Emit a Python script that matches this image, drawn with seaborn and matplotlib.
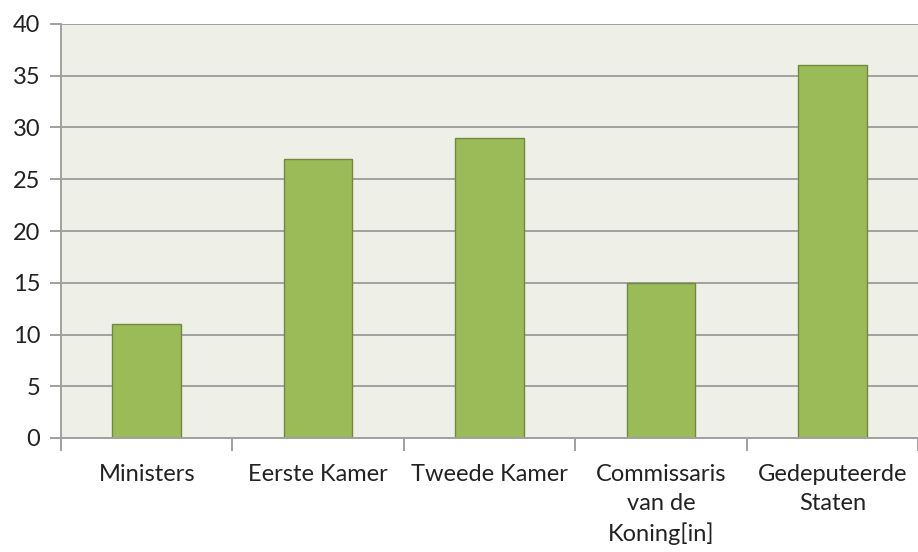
import matplotlib
matplotlib.use("Agg")
import matplotlib.pyplot as plt
import seaborn as sns
import pandas as pd

# categories and values
categories = ["Ministers", "Eerste Kamer", "Tweede Kamer",
              "Commissaris\nvan de\nKoning[in]", "Gedeputeerde\nStaten"]
values = [11, 27, 29, 15, 36]
yticks = [0, 5, 10, 15, 20, 25, 30, 35, 40]

df = pd.DataFrame({"cat": categories, "val": values})

sns.set_style("white")
plt.rcParams["font.family"] = ["Lato", "DejaVu Sans"]

fig = plt.figure(figsize=(9.18, 5.52), dpi=100)
ax = fig.add_axes([61 / 918, 114 / 552, 857 / 918, 414 / 552])
ax.set_facecolor("#EEF0E8")

sns.barplot(data=df, x="cat", y="val", ax=ax, color="#9BBB59",
            width=0.4, edgecolor="#71893F", linewidth=1.0, saturation=1)

ax.set_xlim(-0.5, len(categories) - 0.5)
ax.set_ylim(0, 40)
ax.set_yticks(yticks)
ax.yaxis.grid(True, color="#A0A0A0", linewidth=1.4)
ax.set_axisbelow(True)

ax.set_xlabel("")
ax.set_ylabel("")

for s in ["top", "right"]:
    ax.spines[s].set_visible(False)
for s in ["left", "bottom"]:
    ax.spines[s].set_color("#A0A0A0")
    ax.spines[s].set_linewidth(1.4)

# y ticks: outward gray marks
ax.tick_params(axis="y", direction="out", length=8, width=1.4, color="#A0A0A0",
               labelsize=17, labelcolor="#222222", pad=7, left=True)

# x: labels at centers, no tick marks; tick marks at category boundaries
ax.set_xticks(range(len(categories)))
ax.set_xticklabels(categories, fontsize=17, color="#222222", linespacing=1.45)
ax.tick_params(axis="x", length=0, pad=19)
ax.set_xticks([i - 0.5 for i in range(len(categories) + 1)], minor=True)
ax.tick_params(axis="x", which="minor", direction="out", length=9, width=1.4,
               color="#A0A0A0", bottom=True)

fig.savefig("out.png", dpi=100)
